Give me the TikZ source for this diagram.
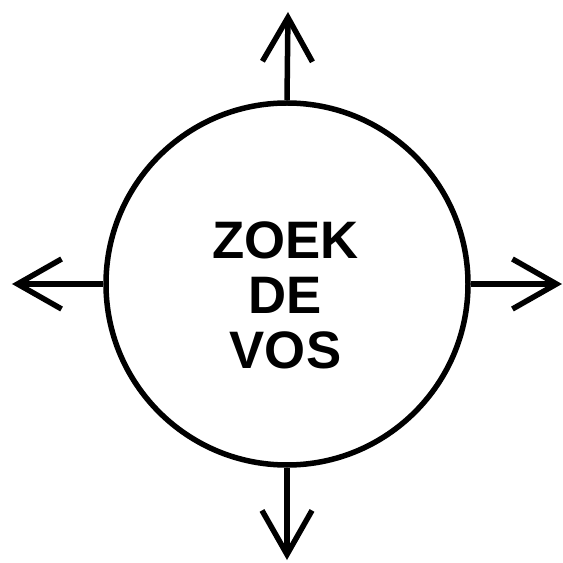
\documentclass[tikz,border=0pt]{standalone}
\usepackage{fontspec}
\setmainfont{Liberation Sans}
\usetikzlibrary{arrows.meta}
\usetikzlibrary{positioning}

\begin{document}
\begin{tikzpicture}[
                line width=0.11cm,
                ring/.style={
                        draw,
                        circle,
                        minimum size=7.24cm,
                        inner sep=0pt
                    },
                textnode/.style={
                        draw=none,
                        align=center,
                        font=\fontsize{30}{31.3}\selectfont\bfseries
                    },
                pointer/.style={
                        -{Straight Barb[length=0.88cm, width=1cm, line width=0.11cm]}
                    }
            ]
            \useasboundingbox (-5.74,-5.58) rectangle (5.52,5.68);

            % Circle and text
            \node[ring] (circ) at (0,0) {};
            \node[textnode] (title) at (-0.03,-0.22) {ZOEK\\DE\\VOS};

            % Free ends of the arrows
            \coordinate (up) at (0.02,5.44);
            \coordinate (down) at (0,-5.52);
            \coordinate (left) at (-5.5,0);
            \coordinate (right) at (5.5,0);

            % Arrows out of the circle
            \draw[pointer] (circ.north) -- (up);
            \draw[pointer] (circ.south) -- (down);
            \draw[pointer] (circ.west) -- (left);
            \draw[pointer] (circ.east) -- (right);

        \end{tikzpicture}
\end{document}
